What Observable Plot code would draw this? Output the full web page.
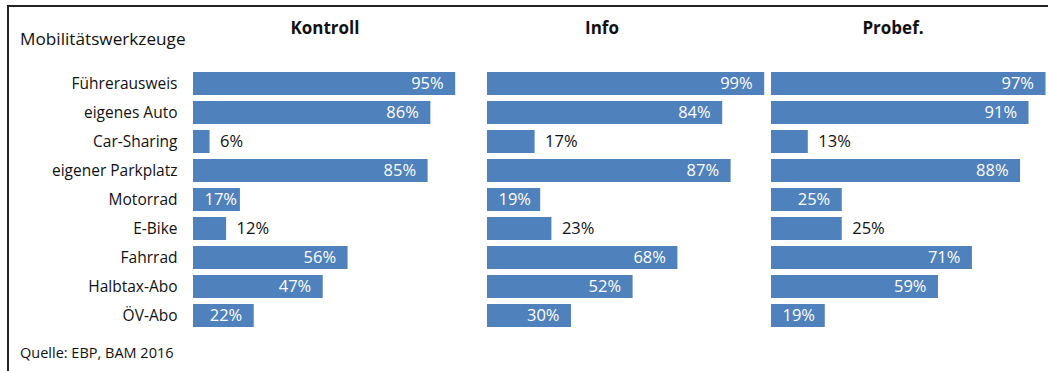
<!DOCTYPE html>
<html>
<head>
<meta charset="utf-8">
<script src="https://cdn.jsdelivr.net/npm/d3@7"></script>
<script src="https://cdn.jsdelivr.net/npm/@observablehq/plot@0.6"></script>
<style>
  html, body { margin: 0; padding: 0; background: #fff; }
  #wrap { position: relative; width: 1048px; height: 371px; overflow: hidden; font-family: "Open Sans", sans-serif; color: #111; }
  #frame { position: absolute; left: 7px; top: 5px; right: -10px; bottom: -10px; border-top: 2px solid #222; border-left: 2px solid #222; }
  .abs { position: absolute; white-space: nowrap; }
  .title { font-weight: 700; font-size: 17px; transform: translateX(-50%); top: 16px; }
  .panel { position: absolute; left: 0; top: 0; max-width: none !important; }
</style>
</head>
<body>
<div id="wrap">
  <div id="frame"></div>
  <div class="abs" style="left:20px;top:27px;font-size:17.2px;">Mobilitätswerkzeuge</div>
  <div class="abs" style="left:20px;top:343px;font-size:14.5px;">Quelle: EBP, BAM 2016</div>
</div>
<script>
const categories = ["Führerausweis", "eigenes Auto", "Car-Sharing", "eigener Parkplatz", "Motorrad", "E-Bike", "Fahrrad", "Halbtax-Abo", "ÖV-Abo"];
const groups = ["Kontroll", "Info", "Probef."];
const kontrollValues = [95, 86, 6, 85, 17, 12, 56, 47, 22];
const infoValues = [99, 84, 17, 87, 19, 23, 68, 52, 30];
const probefValues = [97, 91, 13, 88, 25, 25, 71, 59, 19];
const outsideLabelCats = ["Car-Sharing", "E-Bike"];

const seriesValues = [kontrollValues, infoValues, probefValues];
// layout of each panel: [pixel of 0%, pixel of 100%, title centre]
const layout = [[193, 469, 325], [487, 767, 602], [771, 1054, 893]];

const wrap = document.getElementById("wrap");
const H = 371;
const BLUE = "#4F81BD";
const MIN_LABEL_PX = 57; // bars narrower than this get their label anchored at the bar start

groups.forEach((g, gi) => {
  const rows = categories.map((c, i) => ({cat: c, value: seriesValues[gi][i]}));
  const [x0, x1, tc] = layout[gi];
  const pxPerUnit = (x1 - x0) / 100;
  const insideAll = rows.filter(d => !outsideLabelCats.includes(d.cat));
  const insideEnd = insideAll.filter(d => d.value * pxPerUnit >= MIN_LABEL_PX);
  const insideStart = insideAll.filter(d => d.value * pxPerUnit < MIN_LABEL_PX);
  const outside = rows.filter(d => outsideLabelCats.includes(d.cat));
  const plot = Plot.plot({
    width: x1 + 10,
    height: H,
    marginLeft: x0,
    marginRight: 10,
    marginTop: 66.7,
    marginBottom: H - 333.5,
    style: {fontFamily: "Open Sans, sans-serif", fontSize: "15.5px", color: "#111", background: "transparent", overflow: "visible", maxWidth: "none"},
    x: {domain: [0, 100], axis: null},
    y: {domain: categories, paddingInner: 0.19, paddingOuter: 0.095, axis: gi === 0 ? "left" : null, tickSize: 0, tickPadding: 16, label: null},
    marks: [
      Plot.barX(rows, {x: "value", y: "cat", fill: BLUE}),
      Plot.text(insideEnd, {x: "value", y: "cat", text: d => d.value + "%", textAnchor: "end", dx: -12, fill: "white", fontSize: 16.5}),
      Plot.text(insideStart, {x: 0, y: "cat", text: d => d.value + "%", textAnchor: "start", dx: 11, fill: "white", fontSize: 16.5}),
      Plot.text(outside, {x: "value", y: "cat", text: d => d.value + "%", textAnchor: "start", dx: 10, fill: "#111", fontSize: 16.5})
    ]
  });
  plot.classList.add("panel");
  plot.style.maxWidth = "none";
  wrap.appendChild(plot);
  const t = document.createElement("div");
  t.className = "abs title";
  t.style.left = tc + "px";
  t.textContent = g;
  wrap.appendChild(t);
});
</script>
</body>
</html>
